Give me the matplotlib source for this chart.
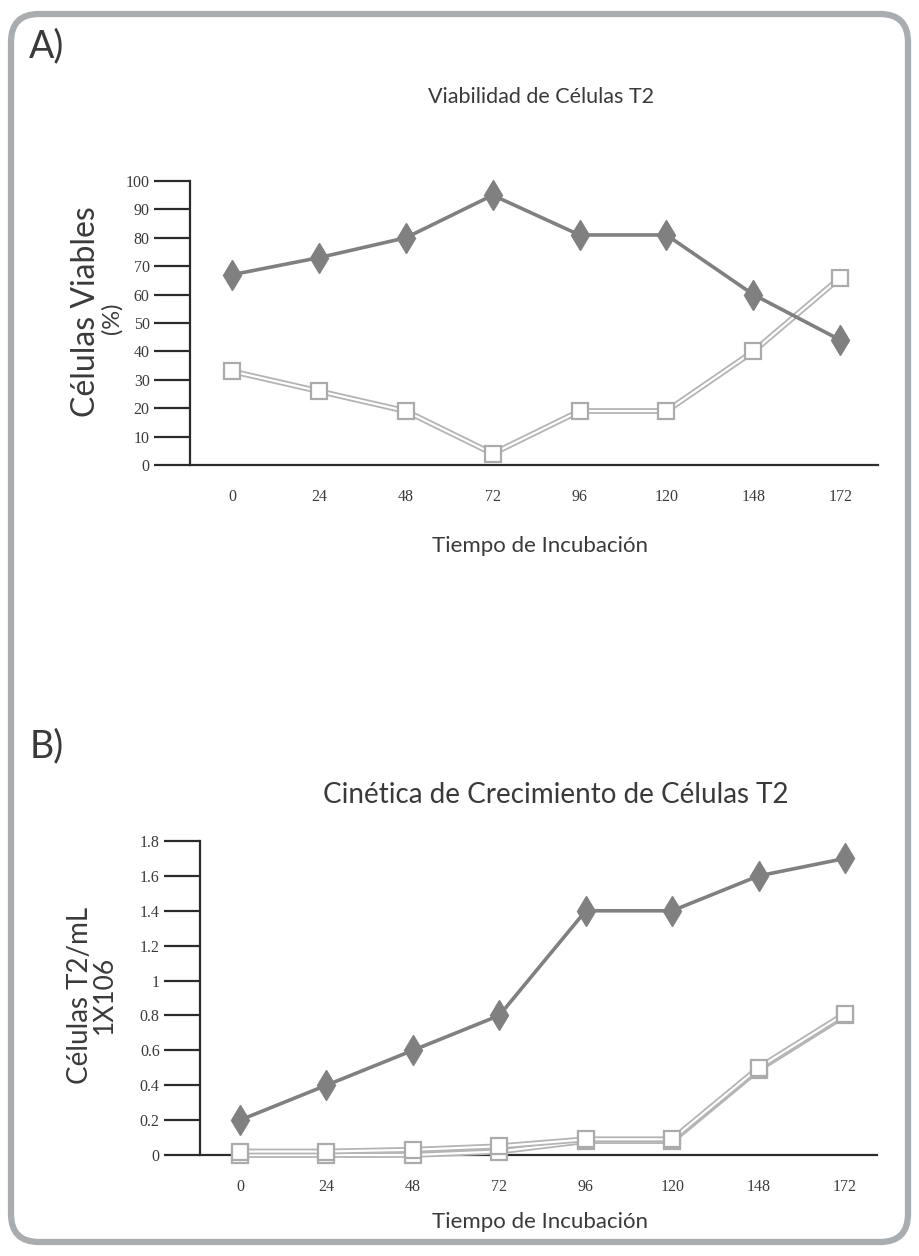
import matplotlib.pyplot as plt
from matplotlib.patches import FancyBboxPatch

# incubation times (h) shared by both panels
tiempos = ["0", "24", "48", "72", "96", "120", "148", "172"]

# panel A: viable / non-viable cells (%)
viables = [67, 73, 80, 95, 81, 81, 60, 44]
no_viables = [33, 26, 19, 4, 19, 19, 40, 66]

# panel B: cell density (x10^6 cells/mL)
densidad = [0.2, 0.4, 0.6, 0.8, 1.4, 1.4, 1.6, 1.7]
densidad_b1 = [0.02, 0.02, 0.03, 0.05, 0.09, 0.09, 0.5, 0.81]
densidad_b2 = [0.0, 0.0, 0.0, 0.02, 0.08, 0.08, 0.49, 0.8]

W, H = 919, 1256
fig = plt.figure(figsize=(W / 100, H / 100), dpi=100)

title_font = "Lato"
tick_font = "Liberation Serif"
DARK = "#2b2b2b"


def px(x, y):
    return x / W, 1 - y / H


def solid_series(ax, x, y):
    ax.plot(x, y, color="#808080", lw=2.6, marker="d", ms=15, mec="#808080",
            mfc="#808080", clip_on=False, zorder=4)


def hollow_series(ax, x, y):
    ax.plot(x, y, color="#b4b4b4", lw=4.2, solid_joinstyle="miter",
            clip_on=False, zorder=3)
    ax.plot(x, y, color="white", lw=1.6, clip_on=False, zorder=3)
    ax.plot(x, y, ls="none", marker="s", ms=11, mfc="white", mec="#ababab",
            mew=1.6, clip_on=False, zorder=3)


def style_axes(ax, xlim, ylim, yticks, ylabels):
    ax.set_xlim(*xlim)
    ax.set_ylim(*ylim)
    for s in ("top", "right"):
        ax.spines[s].set_visible(False)
    for s in ("left", "bottom"):
        ax.spines[s].set_color(DARK)
        ax.spines[s].set_linewidth(1.6)
    ax.set_yticks(yticks)
    ax.set_yticklabels(ylabels, fontfamily=tick_font, fontsize=11.5, color="#3a3a3a")
    ax.tick_params(axis="y", direction="out", length=26, width=1.6, color=DARK, pad=3)
    ax.set_xticks(range(len(tiempos)))
    ax.set_xticklabels(tiempos, fontfamily=tick_font, fontsize=11.5, color="#3a3a3a")
    ax.tick_params(axis="x", length=0, pad=17)
    ax.patch.set_alpha(0)


# panel A
axA = fig.add_axes([190 / W, 1 - 465 / H, 688 / W, 284 / H])
xs = range(len(tiempos))
hollow_series(axA, xs, no_viables)
solid_series(axA, xs, viables)
style_axes(axA, (-0.483, 7.434), (0, 100), range(0, 101, 10),
           [str(v) for v in range(0, 101, 10)])

# panel B
axB = fig.add_axes([200 / W, 1 - 1155 / H, 677 / W, 314 / H])
hollow_series(axB, xs, densidad_b2)
hollow_series(axB, xs, densidad_b1)
solid_series(axB, xs, densidad)
b_ticks = [0, 0.2, 0.4, 0.6, 0.8, 1.0, 1.2, 1.4, 1.6, 1.8]
style_axes(axB, (-0.463, 7.37), (0, 1.8), b_ticks,
           ["0", "0.2", "0.4", "0.6", "0.8", "1", "1.2", "1.4", "1.6", "1.8"])

# titles, axis labels and panel letters
txt = dict(fontfamily=title_font, color="#3a3a3a")
fig.text(*px(47, 46), "A)", fontsize=27, ha="center", va="center", **txt)
fig.text(*px(47, 746), "B)", fontsize=27, ha="center", va="center", **txt)
fig.text(*px(541, 97), "Viabilidad de Células T2", fontsize=15.5, ha="center", va="center", **txt)
fig.text(*px(556, 795), "Cinética de Crecimiento de Células T2", fontsize=20, ha="center", va="center", **txt)
fig.text(*px(540, 546), "Tiempo de Incubación", fontsize=16, ha="center", va="center", **txt)
fig.text(*px(540, 1222), "Tiempo de Incubación", fontsize=16, ha="center", va="center", **txt)
fig.text(*px(86, 312), "Células Viables", fontsize=23, rotation=90, ha="center", va="center", **txt)
fig.text(*px(112, 318), "(%)", fontsize=17, rotation=90, ha="center", va="center", **txt)
fig.text(*px(80, 995), "Células T2/mL", fontsize=20, rotation=90, ha="center", va="center", **txt)
fig.text(*px(104, 995), "1X106", fontsize=19, rotation=90, ha="center", va="center", **txt)

# rounded frame around the whole figure
frame = fig.add_axes([0, 0, 1, 1], zorder=-1)
frame.set_xlim(0, W)
frame.set_ylim(H, 0)
frame.axis("off")
frame.add_patch(FancyBboxPatch((11, 14), W - 22, H - 28,
                               boxstyle="round,pad=0,rounding_size=28",
                               fc="white", ec="#aaadb0", lw=4.5))

fig.savefig("out.png", dpi=100)
